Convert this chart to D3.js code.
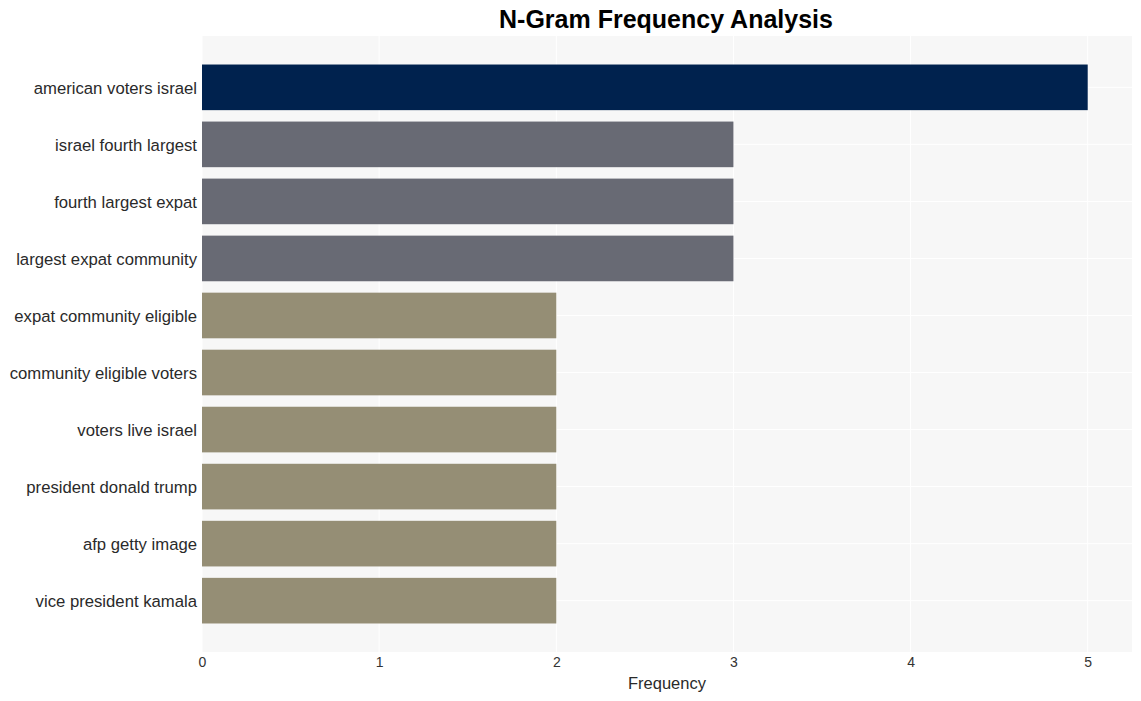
<!DOCTYPE html>
<html><head><meta charset="utf-8">
<script src="https://cdn.jsdelivr.net/npm/d3@7"></script>
<style>body{margin:0;background:#fff;} svg{display:block;font-family:"Liberation Sans",Arial,sans-serif;}</style>
</head><body>
<script>
const categories = ["american voters israel","israel fourth largest","fourth largest expat","largest expat community","expat community eligible","community eligible voters","voters live israel","president donald trump","afp getty image","vice president kamala"];
const values = [5,3,3,3,2,2,2,2,2,2];
const colorsByValue = {5:"#00224e",3:"#686a74",2:"#958e75"};
const xTicks = [0,1,2,3,4,5];
const title = "N-Gram Frequency Analysis";
const xTitle = "Frequency";

const W=1141,H=701;
const m={l:202,r:9,t:36,b:49};
const svg=d3.select("body").append("svg").attr("width",W).attr("height",H);
const x=d3.scaleLinear().domain([0,5.25]).range([m.l,W-m.r]);
const y=d3.scaleBand().domain(categories).range([m.t,H-m.b]).paddingInner(0.2).paddingOuter(0.5);

svg.append("rect").attr("x",m.l).attr("y",m.t).attr("width",W-m.r-m.l).attr("height",H-m.b-m.t).attr("fill","#f7f7f7");
svg.append("g").selectAll("line").data(xTicks).join("line")
  .attr("x1",d=>x(d)).attr("x2",d=>x(d)).attr("y1",m.t).attr("y2",H-m.b)
  .attr("stroke","#fff").attr("stroke-width",1);
svg.append("g").selectAll("line").data(categories).join("line")
  .attr("x1",m.l).attr("x2",W-m.r).attr("y1",d=>y(d)+y.bandwidth()/2).attr("y2",d=>y(d)+y.bandwidth()/2)
  .attr("stroke","#fff").attr("stroke-width",1);

svg.append("g").selectAll("rect").data(categories).join("rect")
  .attr("x",x(0)).attr("y",d=>y(d)).attr("height",y.bandwidth())
  .attr("width",(d,i)=>x(values[i])-x(0)).attr("fill",(d,i)=>colorsByValue[values[i]]);

const ya=svg.append("g").attr("transform",`translate(${m.l},0)`)
  .call(d3.axisLeft(y).tickSize(0).tickPadding(5));
ya.select(".domain").remove();
ya.selectAll("text").attr("font-size",16.7).attr("fill","#2a2a2a").attr("dy","0.38em")
  .attr("font-family","Liberation Sans, Arial, sans-serif");

const xa=svg.append("g").attr("transform",`translate(0,${H-m.b})`)
  .call(d3.axisBottom(x).tickValues(xTicks).tickFormat(d3.format("d")).tickSize(0).tickPadding(5));
xa.select(".domain").remove();
xa.selectAll("text").attr("font-size",14).attr("fill","#333").attr("font-family","Liberation Sans, Arial, sans-serif");

svg.append("text").attr("x",(m.l+W-m.r)/2).attr("y",689).attr("text-anchor","middle")
  .attr("font-size",16.5).attr("fill","#2a2a2a").text(xTitle);
svg.append("text").attr("x",666).attr("y",28).attr("text-anchor","middle")
  .attr("font-size",25).attr("font-weight","bold").attr("fill","#000").text(title);
</script>
</body></html>
